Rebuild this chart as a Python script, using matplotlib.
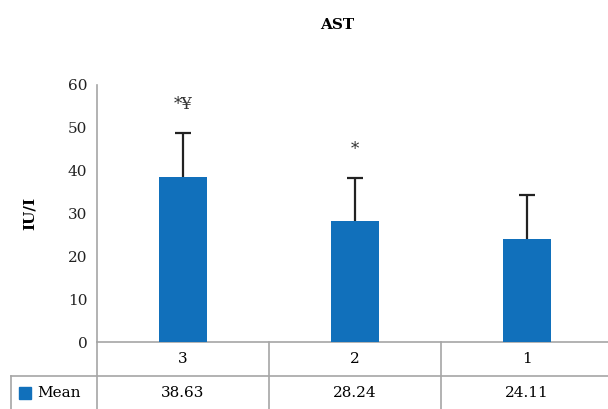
import numpy as np
import matplotlib
matplotlib.use('Agg')
import matplotlib.pyplot as plt
from matplotlib.patches import Rectangle

groups = ['3', '2', '1']
means = [38.63, 28.24, 24.11]
errors = [10.2, 10.1, 10.1]
marks = ['*\u00a5', '*', '']
series_name = 'Mean'

bar_color = '#1170bb'
grid_color = '#a6a6a6'
plt.rcParams['font.family'] = ['DejaVu Serif']

fig = plt.figure(figsize=(6.08, 4.09), dpi=100)
ax = fig.add_axes([97 / 608, 67 / 409, 516 / 608, 257 / 409])

x = np.arange(len(groups))
# bars drawn over the error bars so only the upper half shows
ax.bar(x, means, width=0.275, color=bar_color, zorder=3)
ax.errorbar(x, means, yerr=errors, fmt='none',
            ecolor='#222222', elinewidth=1.6, capsize=6, capthick=1.6, zorder=2)

for xi, m, e, t in zip(x, means, errors, marks):
    if t:
        ax.annotate(t, (xi, m + e), xytext=(0, 14), textcoords='offset points',
                    ha='center', va='bottom', fontsize=12, color='#333333')

ax.set_xlim(-0.5, len(groups) - 0.5)
ax.set_ylim(0, 60)
ax.set_yticks(np.arange(0, 61, 10))
ax.set_xticks([])
ax.tick_params(axis='y', length=0, pad=7, labelsize=11, colors='#222222')
for s in ['top', 'right']:
    ax.spines[s].set_visible(False)
for s in ['left', 'bottom']:
    ax.spines[s].set_color(grid_color)
    ax.spines[s].set_linewidth(1.2)

ax.set_ylabel('IU/I', fontsize=11, fontweight='bold', labelpad=22)
fig.text(337 / 608, 1 - 25 / 409, 'AST', ha='center', va='center',
         fontsize=11, fontweight='bold')

# data table under the axis
tr = ax.get_xaxis_transform()
row = 34 / 257
kw = dict(color=grid_color, lw=1.2, transform=tr, clip_on=False)
ax.plot([-1.0, len(groups) - 0.5], [-row, -row], **kw)
for b in np.arange(len(groups)) + 0.5:
    ax.plot([b, b], [0, -2 * row], **kw)
ax.plot([-0.5, -0.5], [0, -2 * row], **kw)
ax.plot([-1.0, -1.0], [-row, -2 * row], **kw)

for xi, g, m in zip(x, groups, means):
    ax.text(xi, -row / 2, g, transform=tr, ha='center', va='center', fontsize=11)
    ax.text(xi, -1.5 * row, f'{m:.2f}', transform=tr, ha='center', va='center', fontsize=11)

ax.add_patch(Rectangle((-0.953, -1.5 * row - 0.024), 0.07, 0.048, transform=tr,
                       color=bar_color, clip_on=False))
ax.text(-0.85, -1.5 * row, series_name, transform=tr, ha='left', va='center', fontsize=11)

fig.savefig('out.png', dpi=100)
